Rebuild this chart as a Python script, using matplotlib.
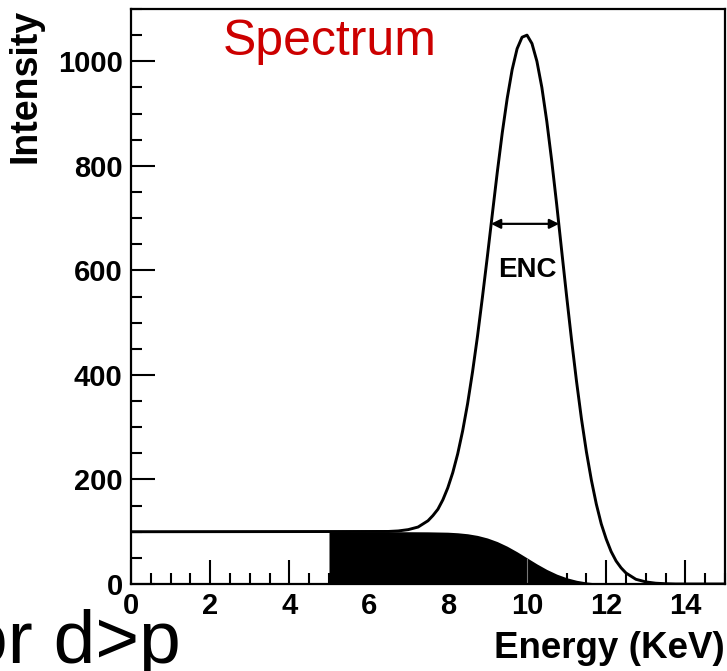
import matplotlib
matplotlib.use("Agg")
import matplotlib.pyplot as plt

plt.rcParams['font.family'] = ['Liberation Sans', 'DejaVu Sans']

# total spectrum (peak + step background)
energy = [0, 6.5, 6.75, 7.0, 7.25, 7.5, 7.625, 7.75, 7.875, 8.0, 8.125, 8.25, 8.375,
          8.5, 8.625, 8.75, 8.875, 9.0, 9.125, 9.25, 9.375, 9.5, 9.625, 9.75, 9.875,
          10.0, 10.125, 10.25, 10.375, 10.5, 10.625, 10.75, 10.875, 11.0, 11.125,
          11.25, 11.375, 11.5, 11.625, 11.75, 11.875, 12.0, 12.125, 12.25, 12.375,
          12.5, 12.75, 13.0, 13.25, 13.5, 13.75, 15]
intensity = [100, 100.5, 101.5, 104, 109, 121, 131, 143, 161, 184, 213, 249, 293,
             345, 406, 474, 549, 627, 708, 788, 863, 929, 984, 1024, 1046,
             1050, 1034, 1000, 950, 885, 809, 726, 638, 551, 467,
             388, 316, 253, 199, 153, 115, 86, 62, 44, 31,
             21, 9, 4, 1.5, 0.5, 0, 0]

# black shoulder (charge sharing background), starting at 5 keV
bg_energy = [5.0, 7.0, 7.5, 8.0, 8.25, 8.5, 8.75, 9.0, 9.25, 9.5, 9.75, 10.0, 10.25,
             10.5, 10.75, 11.0, 11.25, 11.5, 11.75, 12.0, 12.25, 12.5, 13.0]
bg_intensity = [100, 100, 99.8, 99.1, 98.0, 96.1, 92.9, 88.0, 81.1, 72.2, 61.6, 50, 38.4,
                27.8, 18.9, 12.0, 7.1, 3.9, 2.0, 0.9, 0.4, 0.1, 0]

enc_left, enc_right, enc_level = 9.09, 10.81, 689
enc_label = (10.0, 600)

fig = plt.figure(figsize=(7.27, 6.71), dpi=100)
ax = fig.add_axes([131 / 727, 1 - 584 / 671, 594 / 727, 575 / 671])

ax.fill_between(bg_energy, 0, bg_intensity, color='black', lw=0)
ax.vlines(10.0, 0, 50, color='#777777', lw=0.8)
ax.plot(energy, intensity, color='black', lw=2.1, solid_joinstyle='round')

ax.annotate('', xy=(enc_left, enc_level), xytext=(enc_right, enc_level),
            arrowprops=dict(arrowstyle='<|-|>', color='black', lw=1.6,
                            mutation_scale=14, shrinkA=0, shrinkB=0))
ax.text(enc_label[0], enc_label[1], 'ENC', ha='center', va='center',
        fontsize=20, fontweight='bold')

ax.set_xlim(0, 15)
ax.set_ylim(0, 1100)
ax.set_xticks([0, 2, 4, 6, 8, 10, 12, 14])
ax.set_xticks([x / 2 for x in range(0, 31)], minor=True)
ax.set_yticks([0, 200, 400, 600, 800, 1000])
ax.set_yticks(list(range(0, 1101, 50)), minor=True)
ax.tick_params(which='both', direction='in', top=False, right=False,
               width=1.5, labelsize=21)
ax.tick_params(which='major', length=17)
ax.tick_params(which='minor', length=8)
ax.tick_params(axis='x', pad=6)
ax.tick_params(axis='y', pad=6)
for lab in ax.get_xticklabels() + ax.get_yticklabels():
    lab.set_fontweight('bold')
for sp in ax.spines.values():
    sp.set_linewidth(1.6)

ax.set_ylabel('Intensity', fontsize=27, fontweight='bold', loc='top', labelpad=10)
ax.set_xlabel('Energy (KeV)', fontsize=26.5, fontweight='bold', loc='right', labelpad=8)

fig.text(223 / 727, 1 - 55 / 671, 'Spectrum', color='#CC0000', fontsize=36,
         ha='left', va='baseline')
fig.text(-34 / 727, 1 - 663 / 671, 'or d>p', color='black', fontsize=54,
         ha='left', va='baseline')

fig.savefig('out.png', dpi=100)
